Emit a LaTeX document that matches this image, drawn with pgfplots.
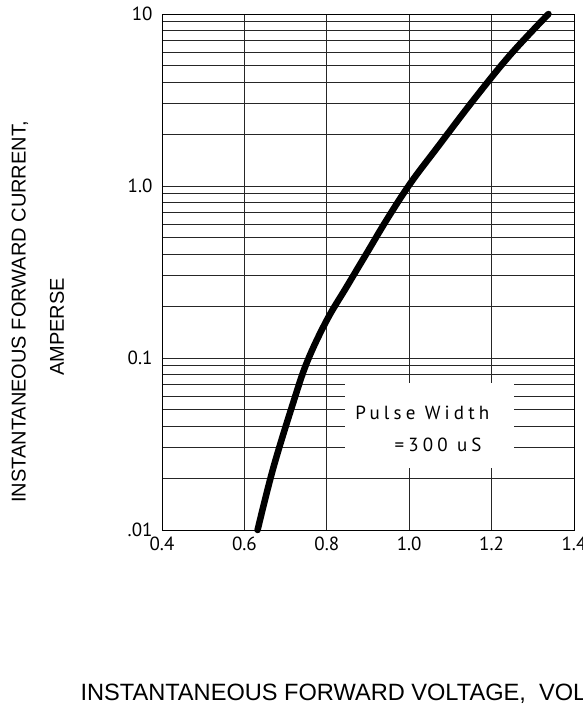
\documentclass[border=0pt]{standalone}
\usepackage{pgfplots}
\pgfplotsset{compat=1.18}
\usepackage{fontspec}
\setmainfont{Liberation Sans}
\newfontfamily\tickfont{PT Sans}
\newfontfamily\notefont[LetterSpace=22]{PT Sans}

\begin{document}
\begin{tikzpicture}
\begin{axis}[
    scale only axis,
    width=412pt, height=516pt,
    xmin=0.4, xmax=1.4,
    ymode=log, ymin=0.01, ymax=10,
    xtick={0.4,0.6,0.8,1.0,1.2,1.4},
    xticklabels={0.4,0.6,0.8,1.0,1.2,1.4},
    ytick={0.01,0.1,1,10},
    yticklabels={.01,0.1,1.0,10},
    minor ytick={0.02,0.03,0.04,0.05,0.06,0.07,0.08,0.09,
                 0.2,0.3,0.4,0.5,0.6,0.7,0.8,0.9,
                 2,3,4,5,6,7,8,9},
    xmajorgrids, ymajorgrids, yminorgrids,
    major grid style={black!85, line width=0.9pt},
    minor grid style={black!85, line width=0.9pt},
    axis line style={black, line width=0.9pt},
    major tick length=0pt, minor tick length=0pt,
    tick label style={font=\tickfont\fontsize{19}{23}\selectfont},
    yticklabel style={xshift=-6pt},
    xticklabel style={yshift=-3pt},
    /pgf/number format/assume math mode=true,
    clip=false
]

% Kasten fuer die Beschriftung
\fill[white] (axis cs:0.844,0.0716) rectangle (axis cs:1.254,0.0229);
\node[font=\notefont\fontsize{19}{22}\selectfont] at (axis cs:1.032,0.0479) {Pulse Width};
\node[font=\notefont\fontsize{19}{22}\selectfont] at (axis cs:1.070,0.0312) {=300 uS};

% Durchlasskennlinie
\addplot[black, line width=6.5pt, smooth, tension=0.6, line cap=round] coordinates {
    (0.632, 0.01)
    (0.670, 0.0229)
    (0.719, 0.0555)
    (0.753, 0.0960)
    (0.800, 0.166)
    (0.848, 0.259)
    (0.897, 0.407)
    (0.945, 0.634)
    (1.002, 1.03)
    (1.067, 1.66)
    (1.156, 3.16)
    (1.245, 5.78)
    (1.338, 10)
};
\end{axis}

% Achsenbeschriftungen
\node[rotate=90, font=\fontsize{20}{24}\selectfont] at (-142pt,218pt) {INSTANTANEOUS FORWARD CURRENT,};
\node[rotate=90, font=\fontsize{20}{24}\selectfont] at (-105pt,203pt) {AMPERSE};
\node[anchor=base west, font=\fontsize{23.6}{27}\selectfont] at (-85pt,-170pt) {INSTANTANEOUS FORWARD VOLTAGE,\ \ VOLTS};

\pgfresetboundingbox
\useasboundingbox (-162pt,-174pt) rectangle (421pt,530pt);
\end{tikzpicture}
\end{document}
